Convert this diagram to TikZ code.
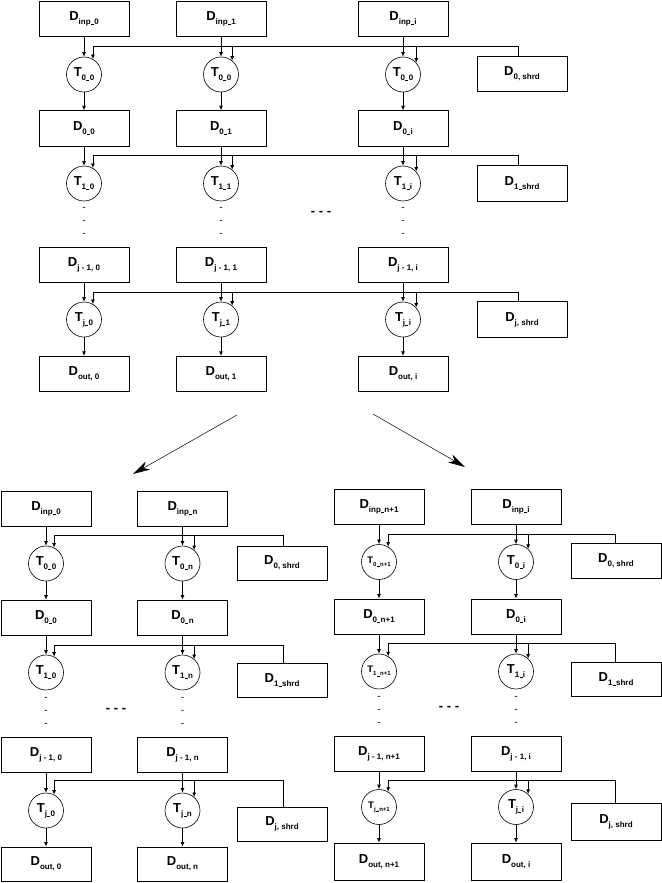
\documentclass[tikz,border=0pt]{standalone}
\usepackage{fontspec}
\setmainfont{Liberation Sans}
\usetikzlibrary{arrows.meta}
\newcommand\myus{\kern0.3pt\rule[-0.6pt]{3pt}{0.8pt}\kern0.3pt}
\newcommand\Dsub[2]{#1\raisebox{-4pt}{\fontsize{8}{8}\selectfont\let\_\myus #2}}
\newcommand\Tsm[2]{{\fontsize{9.5}{10}\selectfont #1\raisebox{-3pt}{\fontsize{6}{6}\selectfont\let\_\myus #2}}}
\tikzset{
  box/.style={draw, line width=0.8pt, minimum width=90pt, minimum height=35.5pt, inner sep=0pt,
    font=\bfseries\fontsize{13}{14}\selectfont},
  task/.style={draw, circle, line width=0.6pt, minimum size=35pt, inner sep=0pt,
    font=\bfseries\fontsize{13}{14}\selectfont},
  flow/.style={line width=0.8pt, -{Latex[length=4.5pt,width=4pt]}},
  bus/.style={line width=0.8pt},
  dotcol/.style={font=\fontsize{10}{13}\selectfont, align=center, inner sep=0pt},
  ell/.style={font=\bfseries\fontsize{13}{13}\selectfont, inner sep=0pt},
  big/.style={line width=0.5pt, -{Stealth[length=17pt,width=9pt,inset=5pt]}}
}
\begin{document}
\begin{tikzpicture}[x=1pt,y=-1pt]
\useasboundingbox (0,0) rectangle (661,883);
% ================= TOP GROUP =================
\node[box] (A-I0) at (84,19) {\Dsub{D}{inp\_0}};
\node[box] (A-I1) at (221,19) {\Dsub{D}{inp\_1}};
\node[box] (A-Ii) at (403,19) {\Dsub{D}{inp\_i}};
\node[task] (A-T00) at (84,74.5) {\Dsub{T}{0\_0}};
\node[task] (A-T01) at (221,74.5) {\Dsub{T}{0\_0}};
\node[task] (A-T0i) at (403,74.5) {\Dsub{T}{0\_0}};
\node[box] (A-S0) at (522,74) {\Dsub{D}{0, shrd}};
\node[box] (A-D00) at (84,128.5) {\Dsub{D}{0\_0}};
\node[box] (A-D01) at (221,128.5) {\Dsub{D}{0\_1}};
\node[box] (A-D0i) at (403,128.5) {\Dsub{D}{0\_i}};
\node[task] (A-T10) at (84,183.5) {\Dsub{T}{1\_0}};
\node[task] (A-T11) at (221,183.5) {\Dsub{T}{1\_1}};
\node[task] (A-T1i) at (403,183.5) {\Dsub{T}{1\_i}};
\node[box] (A-S1) at (522,183.5) {\Dsub{D}{1\_shrd}};
\node[dotcol] (A-v0) at (84,221.5) {-\\-\\-};
\node[dotcol] (A-v1) at (221,221.5) {-\\-\\-};
\node[dotcol] (A-vi) at (403,221.5) {-\\-\\-};
\node[ell] (A-ell) at (321,213) {- - -};
\node[box] (A-J0) at (84,265) {\Dsub{D}{j - 1, 0}};
\node[box] (A-J1) at (221,265) {\Dsub{D}{j - 1, 1}};
\node[box] (A-Ji) at (403,265) {\Dsub{D}{j - 1, i}};
\node[task] (A-Tj0) at (84,319.5) {\Dsub{T}{j\_0}};
\node[task] (A-Tj1) at (221,319.5) {\Dsub{T}{j\_1}};
\node[task] (A-Tji) at (403,319.5) {\Dsub{T}{j\_i}};
\node[box] (A-Sj) at (522,319.5) {\Dsub{D}{j, shrd}};
\node[box] (A-O0) at (84,374) {\Dsub{D}{out, 0}};
\node[box] (A-O1) at (221,374) {\Dsub{D}{out, 1}};
\node[box] (A-Oi) at (403,374) {\Dsub{D}{out, i}};
% flows
\foreach \c in {0,1,i}{
  \draw[flow] (A-I\c.south) -- (A-T0\c.north);
  \draw[flow] (A-T0\c.south) -- (A-D0\c.north);
  \draw[flow] (A-D0\c.south) -- (A-T1\c.north);
  \draw[flow] (A-J\c.south) -- (A-Tj\c.north);
  \draw[flow] (A-Tj\c.south) -- (A-O\c.north);
}
% buses
\coordinate (A-b0) at (0,46.5);
\coordinate (A-b1) at (0,155);
\coordinate (A-bj) at (0,292);
\draw[bus] (A-T00.60 |- A-b0) -| ([xshift=-4pt]A-S0.north);
\draw[flow] (A-T00.60 |- A-b0) -- (A-T00.60);
\draw[flow] (A-T01.51 |- A-b0) -- (A-T01.51);
\draw[flow] (A-T0i.42 |- A-b0) -- (A-T0i.42);
\draw[bus] (A-T10.60 |- A-b1) -| ([xshift=-4pt]A-S1.north);
\draw[flow] (A-T10.60 |- A-b1) -- (A-T10.60);
\draw[flow] (A-T11.51 |- A-b1) -- (A-T11.51);
\draw[flow] (A-T1i.42 |- A-b1) -- (A-T1i.42);
\draw[bus] (A-Tj0.60 |- A-bj) -| ([xshift=-4pt]A-Sj.north);
\draw[flow] (A-Tj0.60 |- A-bj) -- (A-Tj0.60);
\draw[flow] (A-Tj1.51 |- A-bj) -- (A-Tj1.51);
\draw[flow] (A-Tji.42 |- A-bj) -- (A-Tji.42);
% ================= SPLIT ARROWS =================
\coordinate (L-s) at (237,415);
\coordinate (L-e) at (133,474);
\coordinate (R-s) at (373,414);
\coordinate (R-e) at (465,467);
\draw[big] (L-s) -- (L-e);
\draw[big] (R-s) -- (R-e);
% ================= BOTTOM-LEFT GROUP =================
\node[box, minimum height=35pt] (B-I0) at (46,508.5) {\Dsub{D}{inp\_0}};
\node[box, minimum height=35pt] (B-In) at (182.5,508.5) {\Dsub{D}{inp\_n}};
\node[task] (B-T00) at (46,563.5) {\Dsub{T}{0\_0}};
\node[task] (B-T0n) at (182.5,563.5) {\Dsub{T}{0\_n}};
\node[box, minimum height=34pt] (B-S0) at (282,563) {\Dsub{D}{0, shrd}};
\node[box, minimum height=35pt] (B-D00) at (46,617.5) {\Dsub{D}{0\_0}};
\node[box, minimum height=35pt] (B-D0n) at (182.5,617.5) {\Dsub{D}{0\_n}};
\node[task] (B-T10) at (46,672.5) {\Dsub{T}{1\_0}};
\node[task] (B-T1n) at (182.5,672.5) {\Dsub{T}{1\_n}};
\node[box, minimum height=34pt] (B-S1) at (282,680) {\Dsub{D}{1\_shrd}};
\node[dotcol] (B-v0) at (46,711.5) {-\\-\\-};
\node[dotcol] (B-vn) at (182.5,711.5) {-\\-\\-};
\node[ell] (B-ell) at (116,710) {- - -};
\node[box, minimum height=35pt] (B-J0) at (46,754.5) {\Dsub{D}{j - 1, 0}};
\node[box, minimum height=35pt] (B-Jn) at (182.5,754.5) {\Dsub{D}{j - 1, n}};
\node[task] (B-Tj0) at (46,810.5) {\Dsub{T}{j\_0}};
\node[task] (B-Tjn) at (182.5,810.5) {\Dsub{T}{j\_n}};
\node[box, minimum height=34pt] (B-Sj) at (282,824) {\Dsub{D}{j, shrd}};
\node[box, minimum height=34pt] (B-O0) at (46,864) {\Dsub{D}{out, 0}};
\node[box, minimum height=34pt] (B-On) at (182.5,864) {\Dsub{D}{out, n}};
\foreach \c in {0,n}{
  \draw[flow] (B-I\c.south) -- (B-T0\c.north);
  \draw[flow] (B-T0\c.south) -- (B-D0\c.north);
  \draw[flow] (B-D0\c.south) -- (B-T1\c.north);
  \draw[flow] (B-J\c.south) -- (B-Tj\c.north);
  \draw[flow] (B-Tj\c.south) -- (B-O\c.north);
}
\coordinate (B-b0) at (0,535);
\coordinate (B-b1) at (0,645);
\coordinate (B-bj) at (0,780);
\draw[bus] (B-T00.63 |- B-b0) -| ([xshift=1pt]B-S0.north);
\draw[flow] (B-T00.63 |- B-b0) -- (B-T00.63);
\draw[flow] (B-T0n.49 |- B-b0) -- (B-T0n.49);
\draw[bus] (B-T10.63 |- B-b1) -| ([xshift=1pt]B-S1.north);
\draw[flow] (B-T10.63 |- B-b1) -- (B-T10.63);
\draw[flow] (B-T1n.49 |- B-b1) -- (B-T1n.49);
\draw[bus] (B-Tj0.63 |- B-bj) -| ([xshift=1pt]B-Sj.north);
\draw[flow] (B-Tj0.63 |- B-bj) -- (B-Tj0.63);
\draw[flow] (B-Tjn.49 |- B-bj) -- (B-Tjn.49);
% ================= BOTTOM-RIGHT GROUP =================
\node[box] (C-I0) at (379,507) {\Dsub{D}{inp\_n+1}};
\node[box] (C-Ii) at (516,507) {\Dsub{D}{inp\_i}};
\node[task] (C-T00) at (379,562) {\Tsm{T}{0\_n+1}};
\node[task] (C-T0i) at (516,562) {\Dsub{T}{0\_i}};
\node[box] (C-S0) at (616,561) {\Dsub{D}{0, shrd}};
\node[box, minimum height=35pt] (C-D00) at (379,616.5) {\Dsub{D}{0\_n+1}};
\node[box, minimum height=35pt] (C-D0i) at (516,616.5) {\Dsub{D}{0\_i}};
\node[task] (C-T10) at (379,671.5) {\Tsm{T}{1\_n+1}};
\node[task] (C-T1i) at (516,671.5) {\Dsub{T}{1\_i}};
\node[box, minimum height=34pt] (C-S1) at (616,679) {\Dsub{D}{1\_shrd}};
\node[dotcol] (C-v0) at (379,710.5) {-\\-\\-};
\node[dotcol] (C-vi) at (516,710.5) {-\\-\\-};
\node[ell] (C-ell) at (449,708) {- - -};
\node[box, minimum height=35pt] (C-J0) at (379,753.5) {\Dsub{D}{j - 1, n+1}};
\node[box, minimum height=35pt] (C-Ji) at (516,753.5) {\Dsub{D}{j - 1, i}};
\node[task] (C-Tj0) at (379,807) {\Tsm{T}{j\_n+1}};
\node[task] (C-Tji) at (516,807) {\Dsub{T}{j\_i}};
\node[box, minimum height=37pt] (C-Sj) at (616,821.5) {\Dsub{D}{j, shrd}};
\node[box, minimum height=37pt] (C-O0) at (379,861.5) {\Dsub{D}{out, n+1}};
\node[box, minimum height=37pt] (C-Oi) at (516,861.5) {\Dsub{D}{out, i}};
\foreach \c in {0,i}{
  \draw[flow] (C-I\c.south) -- (C-T0\c.north);
  \draw[flow] (C-T0\c.south) -- (C-D0\c.north);
  \draw[flow] (C-D0\c.south) -- (C-T1\c.north);
  \draw[flow] (C-J\c.south) -- (C-Tj\c.north);
  \draw[flow] (C-Tj\c.south) -- (C-O\c.north);
}
\coordinate (C-b0) at (0,534);
\coordinate (C-b1) at (0,643.5);
\coordinate (C-bj) at (0,780);
\draw[bus] (C-T00.59 |- C-b0) -| ([xshift=-1pt]C-S0.north);
\draw[flow] (C-T00.59 |- C-b0) -- (C-T00.59);
\draw[flow] (C-T0i.47 |- C-b0) -- (C-T0i.47);
\draw[bus] (C-T10.59 |- C-b1) -| ([xshift=-1pt]C-S1.north);
\draw[flow] (C-T10.59 |- C-b1) -- (C-T10.59);
\draw[flow] (C-T1i.47 |- C-b1) -- (C-T1i.47);
\draw[bus] (C-Tj0.59 |- C-bj) -| ([xshift=-1pt]C-Sj.north);
\draw[flow] (C-Tj0.59 |- C-bj) -- (C-Tj0.59);
\draw[flow] (C-Tji.47 |- C-bj) -- (C-Tji.47);
\end{tikzpicture}
\end{document}
